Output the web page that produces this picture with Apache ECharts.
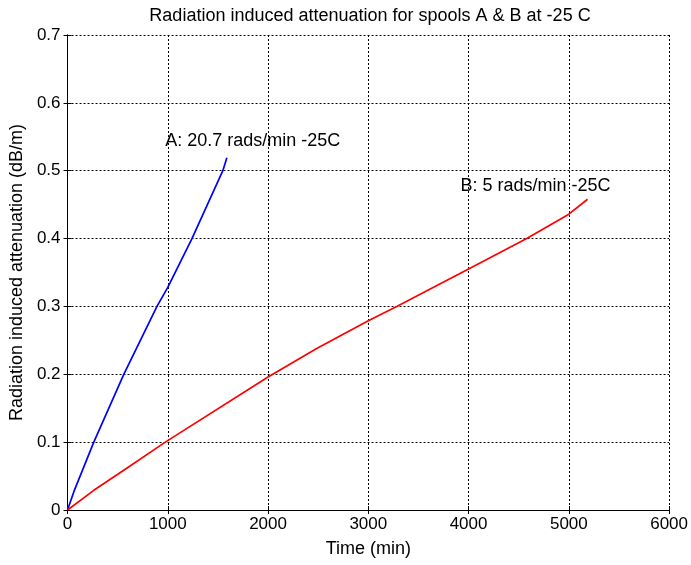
<!DOCTYPE html>
<html><head><meta charset="utf-8">
<script src="https://cdn.jsdelivr.net/npm/echarts@6/dist/echarts.min.js"></script>
<style>html,body{margin:0;padding:0;background:#fff}#c{width:691px;height:565px}</style>
</head><body><div id="c"></div>
<script>
var titleText = 'Radiation induced attenuation for spools A & B at -25 C';
var xName = 'Time (min)';
var yName = 'Radiation induced attenuation (dB/m)';
var seriesAName = 'A: 20.7 rads/min -25C';
var seriesBName = 'B: 5 rads/min -25C';
var timeA = [0, 63, 262, 561, 892, 1000, 1241, 1549, 1589];
var attenA = [0, 0.027, 0.1, 0.2, 0.3, 0.328, 0.4, 0.5, 0.519];
var timeB = [0, 262, 594, 975, 2000, 2485, 3000, 3283, 4000, 4580, 5000, 5187];
var attenB = [0, 0.029, 0.062, 0.1, 0.196, 0.238, 0.279, 0.3, 0.355, 0.4, 0.436, 0.458];
var labelPosA = [975, 0.544];
var labelPosB = [3920, 0.478];

function pairs(xs, ys){ return xs.map(function(x,i){return [x, ys[i]];}); }
var font = 'Liberation Sans, Arial, sans-serif';
var chart = echarts.init(document.getElementById('c'), null, {renderer:'canvas'});
var axisLine = {show:true, lineStyle:{color:'#000', width:1}};
var split = {show:true, lineStyle:{color:'#000', type:[2,2], width:1}};
chart.setOption({
  animation:false,
  backgroundColor:'#fff',
  title:{text:titleText, left:365, top:2, textAlign:'center',
    textStyle:{fontFamily:font, fontSize:18, fontWeight:'normal', color:'#000'}},
  grid:{left:67, right:21, top:35, bottom:55, containLabel:false},
  xAxis:[{type:'value', min:0, max:6000, interval:1000, position:'bottom',
    name:xName, nameLocation:'middle', nameGap:30,
    nameTextStyle:{fontFamily:font, fontSize:18, color:'#000'},
    axisLine:axisLine, axisTick:{show:true, inside:true, length:4, lineStyle:{color:'#000'}},
    axisLabel:{fontFamily:font, fontSize:17, color:'#000', margin:6,
      formatter:function(v){return String(v);}},
    splitLine:split},
    {type:'value', min:0, max:6000, interval:1000, position:'top',
    axisLine:axisLine, axisTick:{show:true, inside:true, length:4, lineStyle:{color:'#000'}},
    axisLabel:{show:false}, splitLine:{show:false}}],
  yAxis:[{type:'value', min:0, max:0.7, interval:0.1, position:'left',
    name:yName, nameLocation:'middle', nameGap:28, nameRotate:90,
    nameTextStyle:{fontFamily:font, fontSize:18, color:'#000'},
    axisLine:axisLine, axisTick:{show:true, inside:true, length:4, lineStyle:{color:'#000'}},
    axisLabel:{fontFamily:font, fontSize:17, color:'#000', margin:7,
      formatter:function(v){return v===0?'0':v.toFixed(1);}},
    splitLine:split},
    {type:'value', min:0, max:0.7, interval:0.1, position:'right',
    axisLine:axisLine, axisTick:{show:true, inside:true, length:4, lineStyle:{color:'#000'}},
    axisLabel:{show:false}, splitLine:{show:false}}],
  series:[
    {type:'line', data:pairs(timeA, attenA), showSymbol:false, symbol:'none',
      lineStyle:{color:'#0000ff', width:1.7}, z:5},
    {type:'line', data:pairs(timeB, attenB), showSymbol:false, symbol:'none',
      lineStyle:{color:'#ff0000', width:1.7}, z:5}
  ]
});
var pA = chart.convertToPixel({gridIndex:0}, labelPosA);
var pB = chart.convertToPixel({gridIndex:0}, labelPosB);
function txt(p, s){
  return {type:'text', x:p[0], y:p[1], z:10,
    style:{text:s, fill:'#000', font:'18px ' + font, textAlign:'left', textVerticalAlign:'middle'}};
}
chart.setOption({graphic:[txt(pA, seriesAName), txt(pB, seriesBName)]});
</script></body></html>
